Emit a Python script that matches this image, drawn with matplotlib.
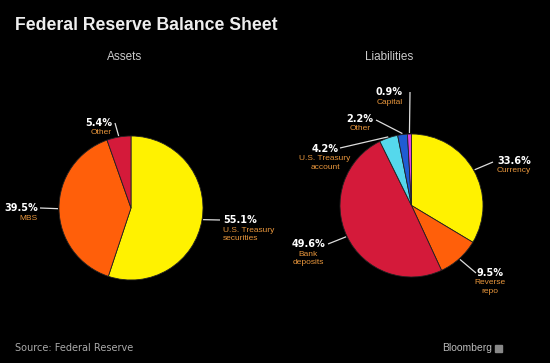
import numpy as np
import matplotlib.pyplot as plt
from matplotlib.patches import Rectangle

# Data
asset_names = ["U.S. Treasury\nsecurities", "MBS", "Other"]
asset_pcts = [55.1, 39.5, 5.4]
liab_names = ["Currency", "Reverse\nrepo", "Bank\ndeposits", "U.S. Treasury\naccount", "Other", "Capital"]
liab_pcts = [33.6, 9.5, 49.6, 4.2, 2.2, 0.9]

asset_colors = ["#FFF200", "#FF5F0A", "#D41A3A"]
liab_colors = ["#FFF200", "#FF5F0A", "#D41A3A", "#55D8EC", "#1F5CD2", "#E040E0"]

H = 363  # figure height in px, labels given in px from top
BG = "#000000"
NAME_COL = "#E8963C"

# label layout: (line end x, line end y, text x, pct y, ha) in px
asset_layout = [(220, 220, 223, 220, "left"),
                (40, 208, 38, 208, "right"),
                (115, 123, 112, 123, "right")]
liab_layout = [(493, 162, 497, 161, "left"),
               (476, 273, 490, 273, "center"),
               (328, 244, 308, 244, "center"),
               (340, 148, 325, 149, "center"),
               (376, 120, 360, 119, "center"),
               (410, 92, 403, 92, "right")]

fig = plt.figure(figsize=(5.5, 3.63), dpi=100, facecolor=BG)
ax = fig.add_axes([0, 0, 1, 1])
ax.set_facecolor(BG)


def draw_pie(pcts, colors, names, layout, cx, cy, r):
    wedges, _ = ax.pie(pcts, colors=colors, startangle=90, counterclock=False,
                       center=(cx, H - cy), radius=r, frame=True,
                       wedgeprops=dict(edgecolor="#222222", linewidth=0.6))
    for w, p, name, (lx, ly, tx, ty, ha) in zip(wedges, pcts, names, layout):
        ang = np.deg2rad((w.theta1 + w.theta2) / 2)
        sx = cx + (r + 1) * np.cos(ang)
        sy = H - cy + (r + 1) * np.sin(ang)
        ax.plot([sx, lx], [sy, H - ly], color="#DDDDDD", lw=0.9, solid_capstyle="butt")
        ax.text(tx, H - ty, f"{p}%", color="white", fontsize=7, fontweight="bold",
                ha=ha, va="center", family="DejaVu Sans")
        ax.text(tx, H - ty - 6.5, name, color=NAME_COL, fontsize=6, ha=ha, va="top",
                family="Liberation Sans", linespacing=1.35)


draw_pie(asset_pcts, asset_colors, asset_names, asset_layout, 131, 208, 72)
draw_pie(liab_pcts, liab_colors, liab_names, liab_layout, 411.5, 205.5, 71.5)

ax.set_xlim(0, 550)
ax.set_ylim(0, H)
ax.set_aspect("equal")
ax.axis("off")

ax.text(15, H - 30, "Federal Reserve Balance Sheet", color="#EEEEEE", fontsize=12.7,
        fontweight="bold", family="Liberation Sans", ha="left", va="baseline")
ax.text(125, H - 57, "Assets", color="#CCCCCC", fontsize=8.5, family="Liberation Sans",
        ha="center", va="center")
ax.text(389, H - 57, "Liabilities", color="#CCCCCC", fontsize=8.5, family="Liberation Sans",
        ha="center", va="center")
ax.text(15, H - 348, "Source: Federal Reserve", color="#AAAAAA", fontsize=7,
        family="DejaVu Sans", ha="left", va="center")
ax.text(492, H - 348, "Bloomberg", color="#BBBBBB", fontsize=7.5,
        family="Liberation Sans", ha="right", va="center")
ax.add_patch(Rectangle((495, H - 352), 7, 7, color="#888888"))

fig.savefig("out.png", dpi=100, facecolor=BG)
